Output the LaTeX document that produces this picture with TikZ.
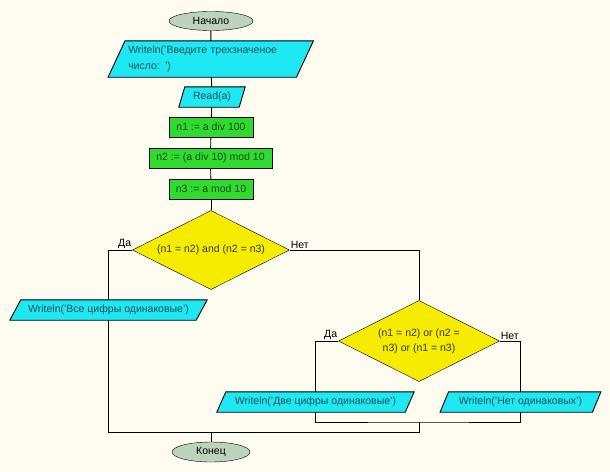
\documentclass[tikz,border=0pt]{standalone}
\usepackage{fontspec}
\setmainfont{Liberation Sans}
\usetikzlibrary{shapes.geometric,backgrounds}
\pgfdeclarelayer{paper}
\pgfsetlayers{paper,background,main}
\definecolor{paperbg}{HTML}{FEFCF0}
\definecolor{termfill}{HTML}{BCD3BC}
\definecolor{iofill}{HTML}{1EE8F2}
\definecolor{procfill}{HTML}{2EDB2E}
\definecolor{decfill}{HTML}{F5EC00}
\definecolor{iotext}{HTML}{1C4F5A}
\definecolor{proctext}{HTML}{1E4A1E}
\definecolor{dectext}{HTML}{3A3600}
\newcommand\ioshape[2]{%
  \begin{pgfonlayer}{background}
    \filldraw[fill=iofill,draw=black,line width=0.9pt]
      ([xshift=#2]#1.north west) -- ([xshift=#2]#1.north east)
      -- ([xshift=-#2]#1.south east) -- ([xshift=-#2]#1.south west) -- cycle;
  \end{pgfonlayer}}
\begin{document}
\begin{tikzpicture}[x=1pt,y=-1pt,
  font=\fontsize{10.5}{16}\selectfont,
  line width=0.9pt,
  term/.style={ellipse,draw=black,fill=termfill,inner sep=0pt,minimum height=19pt},
  proc/.style={rectangle,draw=black,fill=procfill,inner sep=0pt,minimum height=20pt,text=proctext},
  io/.style={rectangle,inner sep=0pt,minimum height=20pt,text=iotext},
  dec/.style={diamond,draw=black,fill=decfill,aspect=2,inner sep=0pt,text=dectext,align=center},
  conn/.style={draw=black,line width=0.9pt},
  lbl/.style={inner sep=1pt,text=black}]
\begin{pgfonlayer}{paper}
  \fill[paperbg] (0,0) rectangle (610,471);
\end{pgfonlayer}
\useasboundingbox (0,0) rectangle (610,471);

\node[term,minimum width=84pt] (start) at (211,21) {Начало};
\node[io,minimum width=188pt,minimum height=36pt,text width=165pt,align=left] (w1) at (210.75,59) {Writeln('Введите трехзначеное\\число: ')};
\ioshape{w1}{8.5}
\node[io,minimum width=60pt] (read) at (212,97) {Read(a)};
\ioshape{read}{3}
\node[proc,minimum width=84pt] (n1) at (211,127) {n1 := a div 100};
\node[proc,minimum width=123pt] (n2) at (210.5,158) {n2 := (a div 10) mod 10};
\node[proc,minimum width=84pt] (n3) at (211,189) {n3 := a mod 10};
\node[dec,minimum width=157pt,minimum height=79pt] (d1) at (211,250) {(n1 = n2) and (n2 = n3)};
\node[io,minimum width=186pt] (w2) at (108.5,310) {Writeln('Все цифры одинаковые')};
\ioshape{w2}{5.5}
\node[dec,minimum width=161pt,minimum height=81pt] (d2) at (419,341) {(n1 = n2) or (n2 =\\[-1pt]n3) or (n1 = n3)};
\node[io,minimum width=188pt] (w3) at (315.5,402) {Writeln('Две цифры одинаковые')};
\ioshape{w3}{4.5}
\node[io,minimum width=152pt] (w4) at (520.5,402) {Writeln('Нет одинаковых')};
\ioshape{w4}{4.25}
\node[term,minimum width=78pt,minimum height=20pt] (end) at (211,452) {Конец};

\node[lbl,anchor=south east] (l1) at (d1.west) {Да};
\node[lbl,anchor=south west] (l2) at (d1.east) {Нет};
\node[lbl,anchor=south east] (l3) at (d2.west) {Да};
\node[lbl,anchor=south west] (l4) at (d2.east) {Нет};

\coordinate (m1) at (d2.south |- 0,422);
\coordinate (m2) at (d2.south |- 0,432);

\draw[conn] (start) -- (w1);
\draw[conn] (w1) -- (read);
\draw[conn] (read) -- (n1);
\draw[conn] (n1) -- (n2);
\draw[conn] (n2) -- (n3);
\draw[conn] (n3) -- (d1);
\draw[conn] (d1.west) -| (w2.north);
\draw[conn] (d1.east) -| (d2.north);
\draw[conn] (d2.west) -| (w3.north);
\draw[conn] (d2.east) -| (w4.north);
\draw[conn] (w3.south) |- (m1) -| (w4.south);
\draw[conn] (m1) -- (m2) -| (w2.south);
\draw[conn] (end.north) -- (end.north |- m2);
\end{tikzpicture}
\end{document}
